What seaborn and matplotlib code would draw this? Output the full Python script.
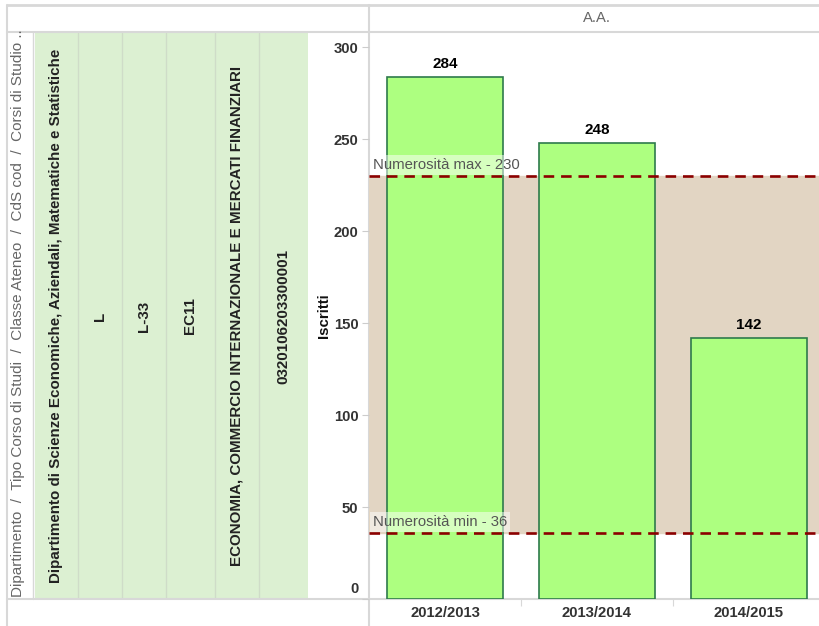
import matplotlib
matplotlib.use("Agg")
import matplotlib.pyplot as plt
import matplotlib.transforms as mtransforms
from matplotlib.patches import Rectangle
import seaborn as sns
import pandas as pd

# ---- data ----
years = ["2012/2013", "2013/2014", "2014/2015"]
iscritti = [284, 248, 142]
num_max = 230
num_min = 36
y_ticks = [0, 50, 100, 150, 200, 250, 300]
header_text = "Dipartimento  /  Tipo Corso di Studi  /  Classe Ateneo  /  CdS cod  /  Corsi di Studio .."
row_values = [
    "Dipartimento di Scienze Economiche, Aziendali, Matematiche e Statistiche",
    "L",
    "L-33",
    "EC11",
    "ECONOMIA, COMMERCIO INTERNAZIONALE E MERCATI FINANZIARI",
    "0320106203300001",
]
column_title = "A.A."
y_label = "Iscritti"

sns.set_theme(style="white")
plt.rcParams["font.family"] = ["Liberation Sans", "DejaVu Sans"]

W, H = 820, 626
fig = plt.figure(figsize=(W / 100, H / 100), dpi=100)

# overlay axes in pixel coordinates (y from top)
ov = fig.add_axes([0, 0, 1, 1], zorder=0)
ov.set_xlim(0, W)
ov.set_ylim(H, 0)
ov.axis("off")

grid_c = "#D8D8D8"
# green cells
cell_edges = [35, 78, 122, 166, 215, 259, 308]
ov.add_patch(Rectangle((35, 33), 308 - 35, 598 - 33, facecolor="#DCF0D2", edgecolor="none"))
for xe in cell_edges[1:-1]:
    ov.plot([xe, xe], [33, 598], color="#CFDCC8", lw=1)
# frame lines
ov.plot([7, W], [5, 5], color=grid_c, lw=2)
ov.plot([7, W], [32, 32], color=grid_c, lw=1.5)
ov.plot([7, W], [599, 599], color=grid_c, lw=1.5)
ov.plot([7, 7], [5, H], color=grid_c, lw=1.5)
ov.plot([33, 33], [32, 599], color=grid_c, lw=1)
ov.plot([369, 369], [5, H], color=grid_c, lw=1.5)

# header texts
ov.text(18, 597, header_text, rotation=90, ha="center", va="bottom",
        fontsize=11, color="#666666")
for i, val in enumerate(row_values):
    cx = (cell_edges[i] + cell_edges[i + 1]) / 2
    ov.text(cx, 316, val, rotation=90, ha="center", va="center",
            fontsize=10.9, fontweight="bold", color="#222222")
ov.text(597, 18, column_title, ha="center", va="center", fontsize=10.6, color="#666666")

# main axes
y0px, y1px = 599, 32
ax = fig.add_axes([369 / W, (H - y0px) / H, (W - 369) / W, (y0px - y1px) / H], zorder=2)
ax.set_facecolor("none")
for s in ax.spines.values():
    s.set_visible(False)

df = pd.DataFrame({"A.A.": years, "Iscritti": iscritti})

ax.axhspan(num_min, num_max, color="#E2D5C3", zorder=0)
sns.barplot(data=df, x="A.A.", y="Iscritti", ax=ax, color="#ADFF80",
            width=0.763, edgecolor="#2E7A4C", linewidth=1.2, saturation=1, zorder=2)
for c in ax.containers:
    ax.bar_label(c, padding=4, fontsize=11, fontweight="bold", color="#000000")

for val, lab in [(num_max, "Numerosità max - %d" % num_max), (num_min, "Numerosità min - %d" % num_min)]:
    ax.axhline(val, color="#8B0000", lw=1.9, dashes=(4, 2.6), zorder=3)
    ax.annotate(lab, xy=(-0.5, val), xytext=(3, 7.5), textcoords="offset points",
                ha="left", va="center", fontsize=10.7, color="#555555", zorder=4,
                bbox=dict(boxstyle="square,pad=0.2", facecolor="white", alpha=0.5, edgecolor="none"))

ax.set_xlim(-0.5, 2.5 - 5 / 152)
ax.set_ylim(0, 308.2)
ax.set_yticks(y_ticks)
ax.set_yticklabels([str(t) for t in y_ticks])
ax.set_xlabel("")
ax.set_ylabel(y_label, fontsize=10.8, fontweight="bold", color="#111111", labelpad=2)
ax.tick_params(axis="y", length=5, width=0.8, color="#CCCCCC", pad=2.5,
               labelsize=10.7, labelcolor="#333333", left=True)
ax.tick_params(axis="x", length=0, pad=5, labelsize=10.7, labelcolor="#333333")
for lbl in ax.get_yticklabels() + ax.get_xticklabels():
    lbl.set_fontweight("bold")
ax.set_xticks([0.5, 1.5], minor=True)
ax.tick_params(axis="x", which="minor", length=5, width=0.8, color="#D8D8D8", bottom=True)
ax.grid(False)

# shift the bottom tick label up so it stays inside the pane (Tableau style)
t0 = ax.yaxis.get_major_ticks()[0]
t0.label1.set_transform(t0.label1.get_transform() +
                        mtransforms.ScaledTranslation(0, 8 / 72, fig.dpi_scale_trans))

fig.savefig("out.png", dpi=100)
